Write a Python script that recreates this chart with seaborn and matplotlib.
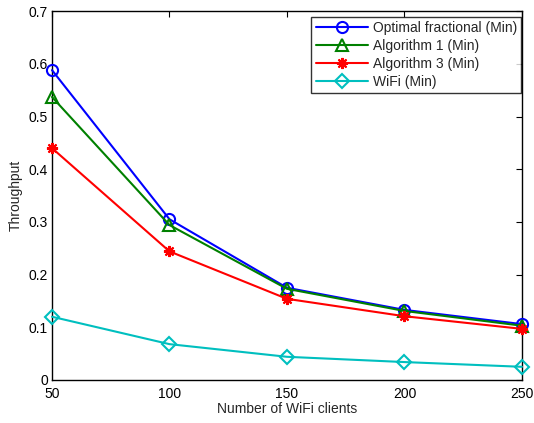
import numpy as np
import matplotlib
matplotlib.use("Agg")
import matplotlib.pyplot as plt
import seaborn as sns
import pandas as pd

clients = [50, 100, 150, 200, 250]
optimal = [0.588, 0.305, 0.175, 0.133, 0.106]
algo1 = [0.537, 0.294, 0.173, 0.131, 0.103]
algo3 = [0.440, 0.244, 0.154, 0.121, 0.097]
wifi = [0.120, 0.068, 0.044, 0.034, 0.025]

labels = ["Optimal fractional (Min)", "Algorithm 1 (Min)", "Algorithm 3 (Min)", "WiFi (Min)"]
series = [optimal, algo1, algo3, wifi]
colors = ["#0000ff", "#008000", "#ff0000", "#00bfbf"]
markers = ["o", "^", (8, 2, 0), "D"]
msizes = [8, 9, 8, 7]

sns.set_style("white")
plt.rcParams["font.family"] = ["Liberation Sans", "DejaVu Sans"]
plt.rcParams["font.size"] = 10

fig = plt.figure(figsize=(5.34, 4.23), dpi=100)
ax = fig.add_axes([0.0974, 0.1017, 0.88, 0.872])

for lab, vals, c, m, ms in zip(labels, series, colors, markers, msizes):
    df = pd.DataFrame({"x": clients, "y": vals})
    sns.lineplot(data=df, x="x", y="y", ax=ax, color=c, marker=m, markersize=ms,
                 markerfacecolor="none", markeredgecolor=c, markeredgewidth=1.5,
                 linewidth=1.5, label=lab, clip_on=False, zorder=3)

ax.set_xlim(50, 250)
ax.set_ylim(0, 0.7)
ax.set_xticks(clients)
ax.set_yticks(np.arange(0, 0.71, 0.1))
ax.set_yticklabels(["0", "0.1", "0.2", "0.3", "0.4", "0.5", "0.6", "0.7"])
ax.set_xlabel("Number of WiFi clients", labelpad=1)
ax.set_ylabel("Throughput", labelpad=4)
ax.tick_params(direction="in", top=True, right=True, length=4, width=0.8,
               labelsize=10, colors="black")
ax.tick_params(axis="x", pad=5)
ax.tick_params(axis="y", pad=3)
for s in ax.spines.values():
    s.set_color("black")
    s.set_linewidth(1.0)

leg = ax.legend(loc="upper right", bbox_to_anchor=(0.998, 0.985), frameon=True,
                fancybox=False, edgecolor="black",
                fontsize=10, handlelength=3.8, handletextpad=0.3, borderpad=0.3,
                labelspacing=0.3, borderaxespad=0.0)
leg.get_frame().set_linewidth(1.0)
leg.set_zorder(5)

fig.savefig("out.png", dpi=100)
